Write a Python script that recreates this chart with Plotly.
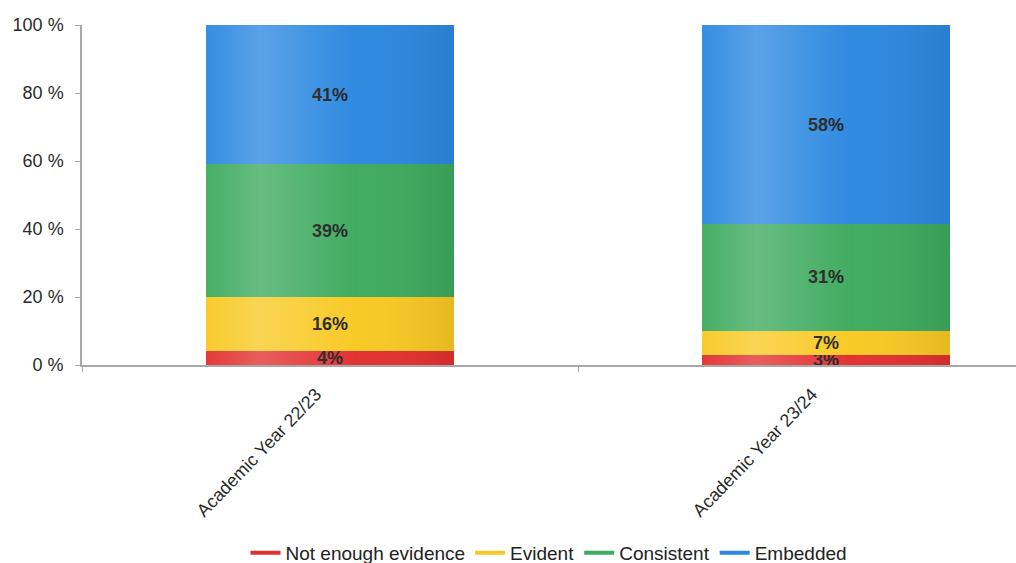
import plotly.graph_objects as go

# Share of assessments in each rating band, per academic year
years = ["Academic Year 22/23", "Academic Year 23/24"]
not_enough = [4, 3]
evident = [16, 7]
consistent = [39, 31]
embedded = [41, 58]

series = [
    ("Not enough evidence", not_enough, "#e2302f"),
    ("Evident", evident, "#f8c923"),
    ("Consistent", consistent, "#3daa5e"),
    ("Embedded", embedded, "#2b88e0"),
]

BAR_WIDTH = 0.5
FONT = "Liberation Sans, Arial, sans-serif"

fig = go.Figure()
for name, vals, color in series:
    fig.add_trace(go.Bar(
        x=years, y=vals, name=name, width=BAR_WIDTH,
        marker=dict(color=color, line=dict(width=0)),
        text=[f"{v}%" for v in vals],
        textposition="inside", insidetextanchor="middle",
        textangle=0, constraintext="none",
        textfont=dict(family=FONT, size=18, color="#1c1c1c", weight="bold"),
        showlegend=False, hoverinfo="skip",
    ))
    # legend entry drawn as a short line, like a classic chart key
    fig.add_trace(go.Scatter(
        x=[None], y=[None], mode="lines", name=name,
        line=dict(color=color, width=4),
    ))

# soft sheen across each (100 % stacked) bar
sheen = (
    "data:image/svg+xml;utf8,"
    "<svg xmlns='http://www.w3.org/2000/svg' width='100' height='100' preserveAspectRatio='none'>"
    "<defs><linearGradient id='g' x1='0' x2='1' y1='0' y2='0'>"
    "<stop offset='0' stop-color='white' stop-opacity='0.05'/>"
    "<stop offset='0.22' stop-color='white' stop-opacity='0.22'/>"
    "<stop offset='0.6' stop-color='white' stop-opacity='0.02'/>"
    "<stop offset='1' stop-color='black' stop-opacity='0.08'/>"
    "</linearGradient></defs>"
    "<rect width='100' height='100' fill='url(%23g)'/></svg>"
)
images = [
    dict(source=sheen, xref="x", yref="y",
         x=i - BAR_WIDTH / 2, y=100, sizex=BAR_WIDTH, sizey=100,
         xanchor="left", yanchor="top", sizing="stretch", layer="above")
    for i, _ in enumerate(years)
]

fig.update_layout(
    width=1016, height=563,
    margin=dict(l=82, r=0, t=25, b=198, autoexpand=False),
    barmode="stack", barnorm="percent",
    plot_bgcolor="white", paper_bgcolor="white",
    font=dict(family=FONT, size=18, color="#2a2a2a"),
    uniformtext=dict(minsize=18, mode="show"),
    images=images,
    legend=dict(
        orientation="h", x=0.5, xanchor="center", y=-0.553, yanchor="middle",
        font=dict(family=FONT, size=19, color="#222222"),
        traceorder="normal",
    ),
    xaxis=dict(
        range=[-0.5, 1.383], showgrid=False, automargin=False,
        showline=True, linecolor="#a8a8a8", linewidth=1.5,
        ticks="outside", tickson="boundaries", ticklen=5, tickcolor="#a8a8a8",
        tickangle=-46, ticklabelshift=-14, ticklabelstandoff=10,
        tickfont=dict(family=FONT, size=18, color="#2a2a2a"),
    ),
    yaxis=dict(
        range=[0, 100], dtick=20, ticksuffix=" %", automargin=False,
        showgrid=False, zeroline=False,
        showline=True, linecolor="#a8a8a8", linewidth=1.5,
        ticks="outside", ticklen=5, tickcolor="#a8a8a8",
        ticklabelstandoff=8,
        tickfont=dict(family=FONT, size=18, color="#2a2a2a"),
    ),
)

fig.write_html("out.html")
